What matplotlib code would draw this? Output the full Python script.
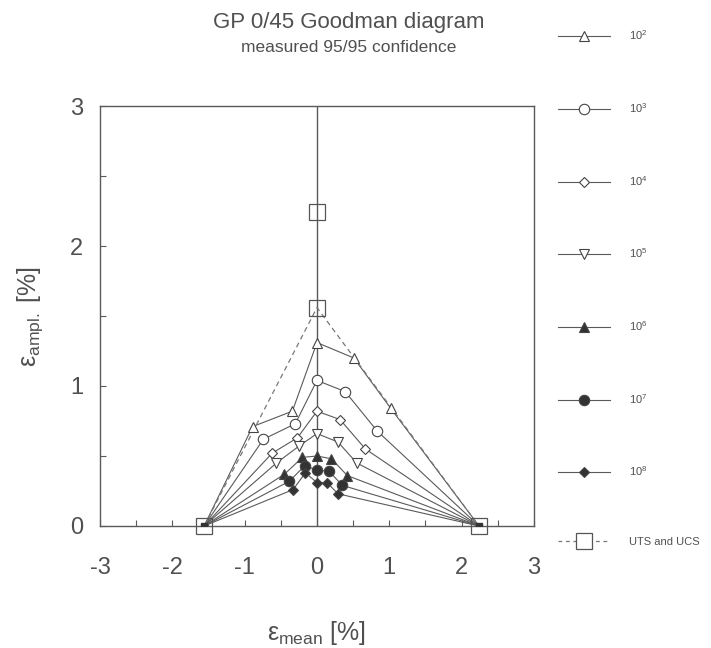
import matplotlib.pyplot as plt
from matplotlib.lines import Line2D

plt.rcParams['font.family'] = ['Liberation Sans', 'DejaVu Sans']
plt.rcParams['mathtext.fontset'] = 'custom'
plt.rcParams['mathtext.rm'] = 'Liberation Sans'
plt.rcParams['mathtext.it'] = 'Liberation Sans:italic'
plt.rcParams['axes.unicode_minus'] = False

# static strength end points (mean strain, %)
UCS = -1.56
UTS = 2.24

# measured points per number of cycles (mean strain, strain amplitude), %
cycles = ['$10^{2}$', '$10^{3}$', '$10^{4}$', '$10^{5}$', '$10^{6}$', '$10^{7}$', '$10^{8}$']
mean_2 = [-0.89, -0.34, 0.0, 0.51, 1.02]
ampl_2 = [0.71, 0.82, 1.31, 1.20, 0.84]
mean_3 = [-0.74, -0.30, 0.0, 0.39, 0.83]
ampl_3 = [0.62, 0.73, 1.04, 0.96, 0.68]
mean_4 = [-0.62, -0.27, 0.0, 0.32, 0.67]
ampl_4 = [0.52, 0.63, 0.82, 0.76, 0.55]
mean_5 = [-0.56, -0.25, 0.0, 0.29, 0.55]
ampl_5 = [0.45, 0.57, 0.66, 0.60, 0.45]
mean_6 = [-0.45, -0.20, 0.0, 0.20, 0.42]
ampl_6 = [0.37, 0.49, 0.50, 0.48, 0.36]
mean_7 = [-0.38, -0.17, 0.0, 0.17, 0.35]
ampl_7 = [0.32, 0.43, 0.40, 0.39, 0.29]
mean_8 = [-0.33, -0.16, 0.0, 0.14, 0.29]
ampl_8 = [0.26, 0.38, 0.31, 0.31, 0.23]

means = [mean_2, mean_3, mean_4, mean_5, mean_6, mean_7, mean_8]
ampls = [ampl_2, ampl_3, ampl_4, ampl_5, ampl_6, ampl_7, ampl_8]
markers = ['^', 'o', 'D', 'v', '^', 'o', 'D']
filled = [False, False, False, False, True, True, True]
msizes = [6.5, 7.5, 5, 6.5, 6.5, 7.5, 5]

LINE = '#5a5a5a'
TEXT = '#505050'

fig = plt.figure(figsize=(7.11, 6.48), dpi=100)
ax = fig.add_axes([0.1406, 0.1883, 0.6104, 0.6481])

ax.axvline(0, color=LINE, lw=1.0, zorder=1)

handles = []
for xs, ys, m, f, ms, lab in zip(means, ampls, markers, filled, msizes, cycles):
    x = [UCS] + xs + [UTS]
    y = [0] + ys + [0]
    ax.plot(x, y, color=LINE, lw=0.8, zorder=2)
    fc = '#333333' if f else 'white'
    ax.plot(xs, ys, ls='none', marker=m, ms=ms, mfc=fc, mec='#444444',
            mew=0.8, zorder=3)
    handles.append(Line2D([], [], color=LINE, lw=0.8, marker=m, ms=ms,
                          mfc=fc, mec='#444444', mew=0.8, label=lab))

# small filled squares where all curves meet
ax.plot([UCS, UTS], [0, 0], ls='none', marker='s', ms=5, color='#333333', zorder=4)

# UTS / UCS reference: dashed envelope and open squares
ax.plot([UCS, 0, UTS], [0, -UCS, 0], ls=(0, (4, 3)), color='#777777', lw=0.9, zorder=2)
ax.plot([UCS, 0, 0, UTS], [0, -UCS, UTS, 0], ls='none', marker='s', ms=12,
        mfc='none', mec='#555555', mew=0.9, zorder=4, clip_on=False)
handles.append(Line2D([], [], color='#777777', lw=0.9, ls=(0, (3, 3)), marker='s',
                      ms=12, mfc='white', mec='#555555', mew=0.9, label='UTS and UCS'))

ax.set_xlim(-3, 3)
ax.set_ylim(0, 3)
ax.set_xticks([-3, -2, -1, 0, 1, 2, 3])
ax.set_yticks([0, 1, 2, 3])
ax.set_xticks([-2.5, -1.5, -0.5, 0.5, 1.5, 2.5], minor=True)
ax.set_yticks([0.5, 1.5, 2.5], minor=True)
ax.tick_params(which='both', direction='in', length=4, width=0.8, color=LINE,
               labelsize=17, labelcolor=TEXT)
ax.tick_params(axis='x', pad=22)
ax.tick_params(axis='y', pad=12)
for s in ax.spines.values():
    s.set_color(LINE)
    s.set_linewidth(1.0)

ax.set_xlabel('ε$_{\\mathrm{mean}}$ [%]', fontsize=18, color=TEXT, labelpad=29)
ax.set_ylabel('ε$_{\\mathrm{ampl.}}$ [%]', fontsize=18, color=TEXT, labelpad=18)

fig.text(0.49, 0.965, 'GP 0/45 Goodman diagram', ha='center', va='center',
         fontsize=16, color=TEXT)
fig.text(0.49, 0.927, 'measured 95/95 confidence', ha='center', va='center',
         fontsize=12.5, color=TEXT)

leg = fig.legend(handles=handles, loc='upper left', bbox_to_anchor=(0.778, 0.963),
                 frameon=False, fontsize=8, handlelength=4.7, labelspacing=5.3,
                 handletextpad=1.7, borderaxespad=0)
for t in leg.get_texts():
    t.set_color(TEXT)

fig.savefig('out.png', dpi=100)
